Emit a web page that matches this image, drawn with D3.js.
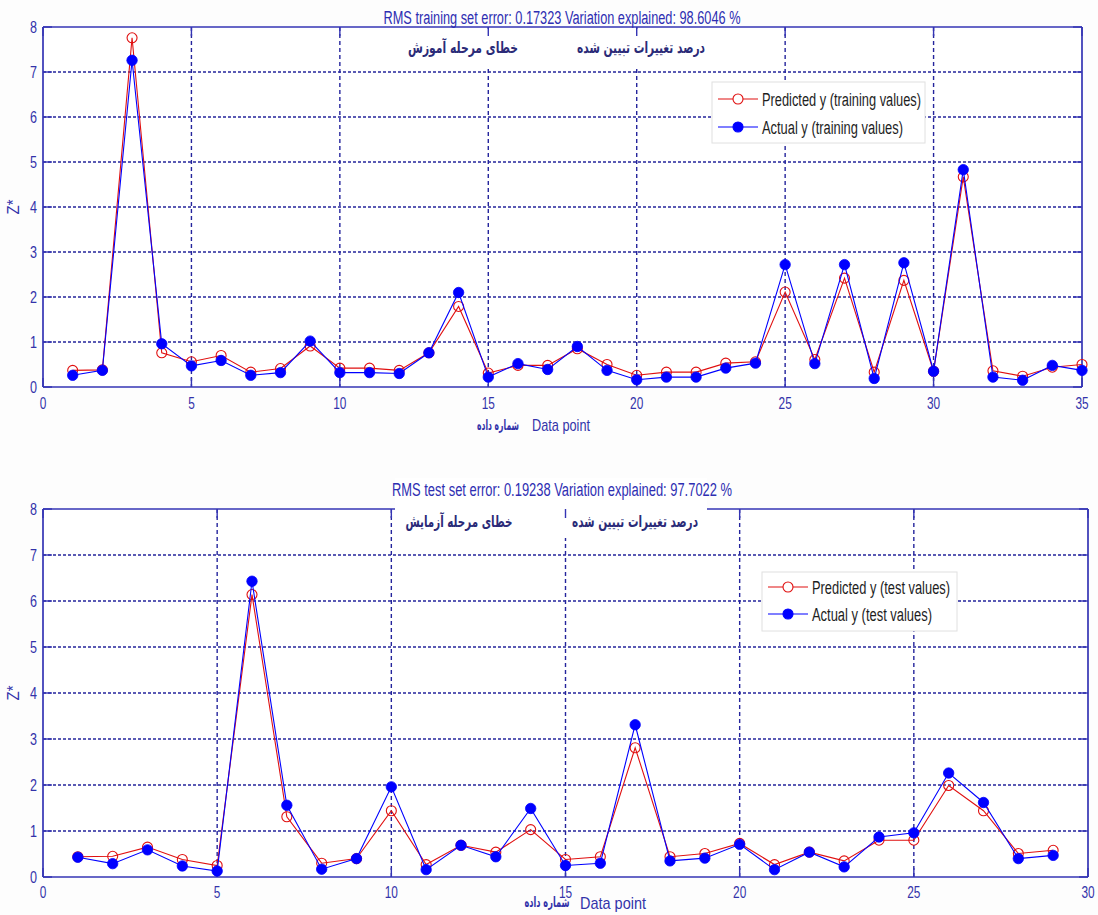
<!DOCTYPE html>
<html>
<head>
<meta charset="utf-8">
<script src="https://cdn.jsdelivr.net/npm/d3@7"></script>
<style>
  html, body { margin: 0; padding: 0; background: #fdfdfd; }
  svg { display: block; }
  .narrow { font-family: "Liberation Sans", Arial, sans-serif; }
  .fa { font-family: "DejaVu Sans", "Noto Sans", sans-serif; font-weight: bold; }
</style>
</head>
<body>
<svg id="chart" width="1098" height="915"></svg>
<script>
// ---------- data ----------
const trainIndex = d3.range(1, 36);
const trainPredicted = [0.37,0.38,7.76,0.76,0.56,0.70,0.33,0.41,0.91,0.42,0.42,0.37,0.76,1.79,0.31,0.48,0.48,0.85,0.50,0.26,0.33,0.33,0.53,0.56,2.11,0.61,2.42,0.33,2.37,0.35,4.67,0.36,0.24,0.44,0.50];
const trainActual    = [0.26,0.37,7.26,0.96,0.47,0.59,0.26,0.32,1.02,0.32,0.32,0.30,0.76,2.10,0.22,0.52,0.39,0.90,0.37,0.16,0.22,0.22,0.42,0.53,2.72,0.52,2.72,0.19,2.76,0.35,4.83,0.22,0.15,0.48,0.37];

const testIndex = d3.range(1, 30);
const testPredicted = [0.44,0.45,0.65,0.38,0.25,6.14,1.31,0.30,0.40,1.44,0.27,0.69,0.54,1.03,0.38,0.44,2.81,0.44,0.51,0.73,0.27,0.54,0.35,0.80,0.80,1.99,1.44,0.51,0.58];
const testActual    = [0.43,0.29,0.59,0.24,0.13,6.43,1.56,0.17,0.40,1.96,0.16,0.69,0.44,1.49,0.25,0.30,3.31,0.35,0.41,0.71,0.16,0.54,0.22,0.87,0.96,2.26,1.62,0.40,0.47];

const yTicks = [0,1,2,3,4,5,6,7,8];
const trainXTicks = [0,5,10,15,20,25,30,35];
const testXTicks = [0,5,10,15,20,25,30];

const trainTitle = "RMS training set error: 0.17323 Variation explained: 98.6046 %";
const testTitle = "RMS test set error: 0.19238 Variation explained: 97.7022 %";
const trainLegend = ["Predicted y (training values)", "Actual y (training values)"];
const testLegend = ["Predicted y (test values)", "Actual y (test values)"];
const faError1 = "خطای مرحله  آموزش";
const faError2 = "خطای مرحله آزمایش";
const faVariation = "درصد تغییرات تبیین شده";
const faDataPoint = "شماره داده";
const xLabel = "Data point";
const yLabel = "Z*";

// ---------- style ----------
const AXIS = "#3434b4";
const GRID = "#24249c";
const TXT = "#3333aa";
const RED = "#e01010";
const BLUE = "#0000ff";

const svg = d3.select("#chart");

function ntext(g, x, y, str, size, width, anchor, fill, cls) {
  const t = g.append("text").attr("class", cls || "narrow")
    .attr("x", x).attr("y", y).attr("font-size", size)
    .attr("text-anchor", anchor || "start").attr("fill", fill || TXT)
    .text(str);
  if (width) t.attr("textLength", width).attr("lengthAdjust", "spacingAndGlyphs");
  return t;
}

function panel(cfg) {
  const g = svg.append("g");
  const x = d3.scaleLinear().domain(cfg.xDomain).range([cfg.left, cfg.right]);
  const y = d3.scaleLinear().domain([0, 8]).range([cfg.bottom, cfg.top]);

  g.append("rect").attr("x", cfg.left).attr("y", cfg.top)
    .attr("width", cfg.right - cfg.left).attr("height", cfg.bottom - cfg.top)
    .attr("fill", "#ffffff");

  // grid
  g.selectAll(null).data(yTicks.filter(t => t > 0 && t < 8)).join("line")
    .attr("x1", cfg.left).attr("x2", cfg.right)
    .attr("y1", d => y(d)).attr("y2", d => y(d))
    .attr("stroke", GRID).attr("stroke-width", 1.5).attr("stroke-dasharray", "3,2");
  g.selectAll(null).data(cfg.xTicks.filter(t => t > cfg.xDomain[0] && t < cfg.xDomain[1])).join("line")
    .attr("x1", d => x(d)).attr("x2", d => x(d))
    .attr("y1", cfg.top).attr("y2", cfg.bottom)
    .attr("stroke", GRID).attr("stroke-width", 1.4).attr("stroke-dasharray", "4,3");

  // white cover for the pasted Persian captions
  g.append("rect").attr("x", cfg.cover[0]).attr("y", cfg.cover[1])
    .attr("width", cfg.cover[2]).attr("height", cfg.cover[3]).attr("fill", "#ffffff");

  // ticks inside on all sides
  const tl = 9;
  yTicks.forEach(t => {
    g.append("line").attr("x1", cfg.left).attr("x2", cfg.left + tl).attr("y1", y(t)).attr("y2", y(t)).attr("stroke", AXIS).attr("stroke-width", 1.4);
    g.append("line").attr("x1", cfg.right).attr("x2", cfg.right - tl).attr("y1", y(t)).attr("y2", y(t)).attr("stroke", AXIS).attr("stroke-width", 1.4);
  });
  cfg.xTicks.forEach(t => {
    g.append("line").attr("x1", x(t)).attr("x2", x(t)).attr("y1", cfg.bottom).attr("y2", cfg.bottom - tl).attr("stroke", AXIS).attr("stroke-width", 1.4);
    g.append("line").attr("x1", x(t)).attr("x2", x(t)).attr("y1", cfg.top).attr("y2", cfg.top + tl).attr("stroke", AXIS).attr("stroke-width", 1.4);
  });

  // axis box
  const bw = 1.7;
  g.append("line").attr("x1", cfg.left).attr("x2", cfg.right).attr("y1", cfg.bottom).attr("y2", cfg.bottom).attr("stroke", AXIS).attr("stroke-width", bw);
  g.append("line").attr("x1", cfg.left).attr("x2", cfg.left).attr("y1", cfg.top).attr("y2", cfg.bottom).attr("stroke", AXIS).attr("stroke-width", bw);
  g.append("line").attr("x1", cfg.right).attr("x2", cfg.right).attr("y1", cfg.top).attr("y2", cfg.bottom).attr("stroke", AXIS).attr("stroke-width", bw);
  if (cfg.coverTop) {
    g.append("line").attr("x1", cfg.left).attr("x2", cfg.cover[0]).attr("y1", cfg.top).attr("y2", cfg.top).attr("stroke", AXIS).attr("stroke-width", bw);
    g.append("line").attr("x1", cfg.cover[0] + cfg.cover[2]).attr("x2", cfg.right).attr("y1", cfg.top).attr("y2", cfg.top).attr("stroke", AXIS).attr("stroke-width", bw);
  } else {
    g.append("line").attr("x1", cfg.left).attr("x2", cfg.right).attr("y1", cfg.top).attr("y2", cfg.top).attr("stroke", AXIS).attr("stroke-width", bw);
  }

  // tick labels
  yTicks.forEach(t => ntext(g, cfg.left - 6, y(t) + 6, String(t), 17, 7, "end"));
  cfg.xTicks.forEach(t => { const s = String(t); ntext(g, x(t), cfg.bottom + cfg.xTickDy, s, 17, 6.6 * s.length, "middle"); });

  // y label
  g.append("text").attr("class", "narrow")
    .attr("transform", `translate(${cfg.left - 24},${(cfg.top + cfg.bottom) / 2}) rotate(-90)`)
    .attr("text-anchor", "middle").attr("font-size", 16).attr("fill", TXT)
    .attr("textLength", 15).attr("lengthAdjust", "spacingAndGlyphs").text(yLabel);

  // x label
  ntext(g, cfg.faX[0], cfg.faX[1], faDataPoint, 14, cfg.faX[2], "middle", TXT, "fa").attr("font-weight", "normal");
  ntext(g, cfg.xl[0], cfg.xl[1], xLabel, 17, cfg.xl[2], "start");

  // title
  ntext(g, cfg.titleX, cfg.titleY, cfg.title, 18, cfg.titleW, "middle", "#2e2eb2");

  // Persian captions
  ntext(g, cfg.fa1[0], cfg.fa1[1], cfg.faErr, 16, cfg.fa1[2], "middle", "#2b2b78", "fa");
  ntext(g, cfg.fa2[0], cfg.fa2[1], faVariation, 16, cfg.fa2[2], "middle", "#2b2b78", "fa");

  // series
  const line = d3.line().x(d => x(d[0])).y(d => y(d[1]));
  const pred = cfg.index.map((i, k) => [i, cfg.pred[k]]);
  const act = cfg.index.map((i, k) => [i, cfg.act[k]]);

  g.append("path").datum(pred).attr("d", line).attr("fill", "none").attr("stroke", RED).attr("stroke-width", 1.1);
  g.selectAll(null).data(pred).join("circle")
    .attr("cx", d => x(d[0])).attr("cy", d => y(d[1])).attr("r", 5)
    .attr("fill", "none").attr("stroke", RED).attr("stroke-width", 1.1);
  g.append("path").datum(act).attr("d", line).attr("fill", "none").attr("stroke", BLUE).attr("stroke-width", 1.1);
  g.selectAll(null).data(act).join("circle")
    .attr("cx", d => x(d[0])).attr("cy", d => y(d[1])).attr("r", 5.2)
    .attr("fill", BLUE).attr("stroke", BLUE).attr("stroke-width", 0.8);

  // legend
  const L = cfg.legend;
  g.append("rect").attr("x", L.x).attr("y", L.y).attr("width", L.w).attr("height", L.h)
    .attr("fill", "#ffffff").attr("stroke", "#e0e0e0").attr("stroke-width", 1);
  const rows = [{c: RED, filled: false, t: cfg.legendText[0], w: L.tw[0]}, {c: BLUE, filled: true, t: cfg.legendText[1], w: L.tw[1]}];
  rows.forEach((r, k) => {
    const yy = L.y + L.r0 + k * L.dy;
    g.append("line").attr("x1", L.x + 6).attr("x2", L.x + 46).attr("y1", yy).attr("y2", yy)
      .attr("stroke", r.c).attr("stroke-width", 1.1);
    g.append("circle").attr("cx", L.x + 26).attr("cy", yy).attr("r", 5)
      .attr("fill", r.filled ? r.c : "#ffffff").attr("stroke", r.c).attr("stroke-width", 1.1);
    ntext(g, L.x + 50, yy + 6.5, r.t, 18, r.w, "start", "#1e1e1e");
  });
}

panel({
  xDomain: [0, 35], xTicks: trainXTicks, left: 43, right: 1082, top: 27, bottom: 387,
  index: trainIndex, pred: trainPredicted, act: trainActual,
  xTickDy: 22, faX: [498, 430, 42], xl: [532, 431, 58],
  title: trainTitle, titleX: 562, titleY: 24, titleW: 357,
  cover: [400, 29, 312, 38], coverTop: false,
  faErr: faError1, fa1: [463, 53, 110], fa2: [641, 53, 128],
  legend: {x: 712, y: 82, w: 213, h: 61, r0: 17, dy: 28, tw: [159, 141]},
  legendText: trainLegend
});

panel({
  xDomain: [0, 30], xTicks: testXTicks, left: 43, right: 1088, top: 509, bottom: 877,
  index: testIndex, pred: testPredicted, act: testActual,
  xTickDy: 21, faX: [547, 907, 45], xl: [580, 909, 66],
  title: testTitle, titleX: 562, titleY: 496, titleW: 340,
  cover: [395, 478, 312, 60], coverTop: true,
  faErr: faError2, fa1: [459, 527, 107], fa2: [635, 527, 126],
  legend: {x: 762, y: 572, w: 195, h: 59, r0: 15, dy: 27, tw: [138, 120]},
  legendText: testLegend
});
</script>
</body>
</html>
